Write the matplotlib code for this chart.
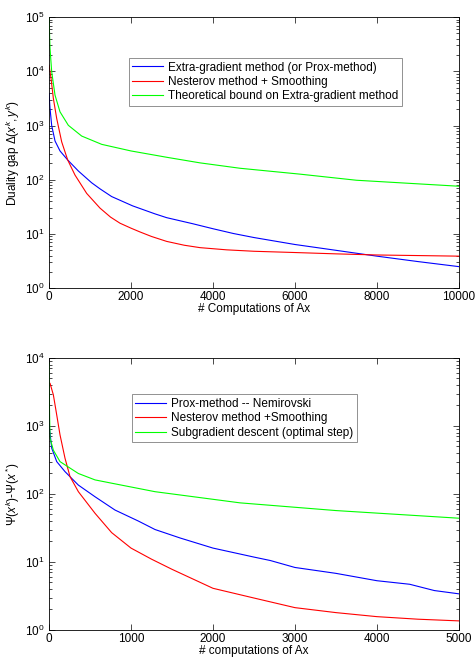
import numpy as np
import matplotlib
matplotlib.use('Agg')
import matplotlib.pyplot as plt
from matplotlib.ticker import LogLocator, NullFormatter

plt.rc('font', family=['Liberation Sans', 'DejaVu Sans'], size=7.5)
plt.rc('mathtext', fontset='custom', rm='Liberation Sans',
       it='Liberation Sans:italic', bf='Liberation Sans:bold')
plt.rc('axes', linewidth=0.6)

# Top panel: duality gap vs number of Ax computations
top_blue_x = [0, 24, 65, 146, 268, 455, 716, 1040, 1244, 1528, 2040, 2585,
              2870, 3500, 4000, 4500, 5000, 6000, 7000, 8000, 9000, 10000]
top_blue_y = [3900, 2080, 1000, 520, 340, 232, 145, 88, 68, 49, 33, 23.5,
              20, 15.5, 12.5, 10.2, 8.6, 6.4, 5.0, 3.9, 3.1, 2.5]
top_red_x = [0, 49, 106, 187, 309, 455, 634, 919, 1244, 1500, 1732, 2000,
             2220, 2500, 2870, 3300, 3683, 4334, 5000, 6000, 7000, 8000,
             9000, 10000]
top_red_y = [13000, 7400, 3150, 1350, 500, 232, 122, 56, 30, 20.5, 15.8,
             12.8, 10.9, 9.0, 7.3, 6.2, 5.6, 5.1, 4.8, 4.55, 4.3, 4.1,
             4.0, 3.9]
top_green_x = [0, 24, 65, 146, 268, 471, 797, 1285, 2000, 2870, 3683, 4660,
               6122, 7500, 10000]
top_green_y = [100000, 26500, 9800, 3640, 1790, 1010, 640, 450, 340, 260,
               205, 163, 127, 98, 76]
top_labels = ['Extra-gradient method (or Prox-method)',
              'Nesterov method + Smoothing',
              'Theoretical bound on Extra-gradient method']

# Bottom panel: objective gap vs number of Ax computations
bot_blue_x = [0, 5, 33, 94, 195, 358, 561, 805, 1089, 1293, 1600, 2000, 2500,
              2700, 3000, 3500, 4000, 4400, 4700, 5000]
bot_blue_y = [1500, 930, 470, 299, 213, 135, 91, 58, 40, 30, 22.5, 16, 11.8,
              10.5, 8.3, 6.8, 5.3, 4.7, 3.8, 3.4]
bot_red_x = [0, 12, 53, 94, 134, 195, 256, 358, 561, 764, 1000, 1250, 1500,
             2000, 2500, 3000, 3500, 4000, 4500, 5000]
bot_red_y = [4300, 4250, 2860, 1450, 740, 335, 180, 108, 52, 27, 16, 11,
             7.8, 4.1, 2.95, 2.13, 1.8, 1.57, 1.44, 1.36]
bot_green_x = [0, 5, 12, 53, 134, 195, 358, 561, 764, 1293, 2330, 3500, 5000]
bot_green_y = [8500, 2000, 660, 440, 299, 268, 200, 161, 144, 108, 74, 57, 44]
bot_labels = ['Prox-method -- Nemirovski',
              'Nesterov method +Smoothing',
              'Subgradient descent (optimal step)']

colors = ['#0000ff', '#ff0000', '#00ff00']

fig = plt.figure(figsize=(4.76, 6.58), dpi=100)
ax_top = fig.add_axes([0.103, 0.562, 0.861, 0.412])
ax_bot = fig.add_axes([0.103, 0.0426, 0.861, 0.4134])

for x, y, c, lab in zip([top_blue_x, top_red_x, top_green_x],
                        [top_blue_y, top_red_y, top_green_y], colors, top_labels):
    ax_top.semilogy(x, y, color=c, lw=0.8, label=lab)
for x, y, c, lab in zip([bot_blue_x, bot_red_x, bot_green_x],
                        [bot_blue_y, bot_red_y, bot_green_y], colors, bot_labels):
    ax_bot.semilogy(x, y, color=c, lw=0.8, label=lab)

ax_top.set_xlim(0, 10000)
ax_top.set_ylim(1, 1e5)
ax_top.set_xticks(range(0, 10001, 2000))
ax_top.set_xlabel('# Computations of Ax', fontsize=8.5, labelpad=0)
ax_top.set_ylabel(r'Duality gap $\Delta(x^k,y^k)$', fontsize=8.5, labelpad=2)

ax_bot.set_xlim(0, 5000)
ax_bot.set_ylim(1, 1e4)
ax_bot.set_xticks(range(0, 5001, 1000))
ax_bot.set_xlabel('# computations of Ax', fontsize=8.5, labelpad=0)
ax_bot.set_ylabel(r'$\Psi(x^k)$-$\Psi(x^*)$', fontsize=8.5, labelpad=2)

for axi in (ax_top, ax_bot):
    axi.yaxis.set_major_locator(LogLocator(base=10, numticks=10))
    axi.yaxis.set_minor_locator(LogLocator(base=10, subs=np.arange(2, 10),
                                           numticks=100))
    axi.yaxis.set_minor_formatter(NullFormatter())
    axi.tick_params(which='both', direction='in', top=True, right=True,
                    width=0.5, labelsize=8.5)
    axi.tick_params(axis='x', pad=2)
    axi.tick_params(axis='y', pad=3)
    axi.tick_params(which='major', length=4)
    axi.tick_params(which='minor', length=2)

leg_kw = dict(loc='upper left', fontsize=8.5, fancybox=False, framealpha=1,
              edgecolor='#808080', handlelength=2.6, handletextpad=0.4,
              borderaxespad=0, borderpad=0.3, labelspacing=0.2)
lg = ax_top.legend(bbox_to_anchor=(0.195, 0.849), **leg_kw)
lg.get_frame().set_linewidth(0.6)
lg = ax_bot.legend(bbox_to_anchor=(0.202, 0.866), **leg_kw)
lg.get_frame().set_linewidth(0.6)

fig.savefig('out.png', dpi=100)
